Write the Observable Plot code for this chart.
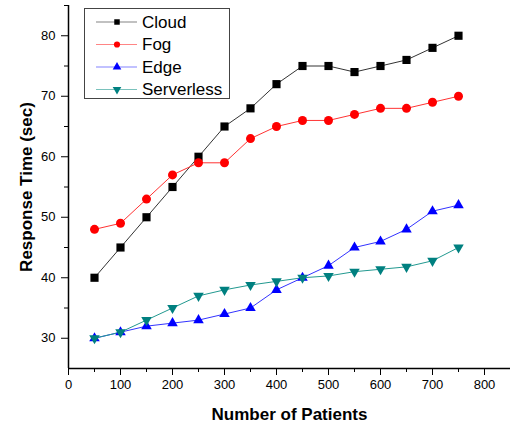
<!DOCTYPE html>
<html><head><meta charset="utf-8">
<script src="https://cdn.jsdelivr.net/npm/d3@7"></script>
<script src="https://cdn.jsdelivr.net/npm/@observablehq/plot@0.6"></script>
<style>
body{margin:0;background:#fff;}
#wrap{position:relative;width:510px;height:428px;font-family:Arial,"Liberation Sans",sans-serif;}
#wrap svg.plot{font-family:Arial,"Liberation Sans",sans-serif;}
g[aria-label="x-axis label"] text, g[aria-label="y-axis label"] text{font-weight:bold;font-size:17px;}
#legend{position:absolute;left:84px;top:8px;}
</style></head><body><div id="wrap"></div>
<script>
const patients = [50,100,150,200,250,300,350,400,450,500,550,600,650,700,750];
const cloud = [40,45,50,55,60,65,68,72,75,75,74,75,76,78,80];
const fog = [48,49,53,57,59,59,63,65,66,66,67,68,68,69,70];
const edge = [30,31,32,32.5,33,34,35,38,40,42,45,46,48,51,52];
const serverless = [30,31,33,35,37,38,38.8,39.4,40,40.3,41,41.4,41.8,42.8,45];
const seriesNames = ["Cloud","Fog","Edge","Serverless"];
const seriesValues = [cloud, fog, edge, serverless];
const seriesColors = ["#000000","#ff0000","#0000ff","#008080"];
const lineColors = ["#333333","#ff3333","#3333ff","#229990"];
const seriesSymbols = ["square","circle","triangle","triangle"];
const seriesRotate = [0,0,0,180];
const seriesR = [4.6,4.5,3.9,3.9];
const xTicks = [0,100,200,300,400,500,600,700,800];
const xMinor = [50,150,250,350,450,550,650,750];
const yTicks = [30,40,50,60,70,80];
const yMinor = [35,45,55,65,75,85];

const rows = seriesNames.flatMap((s,i)=>patients.map((p,j)=>({series:s, i, x:p, y:seriesValues[i][j]})));

const marks = [
  Plot.ruleY([25],{stroke:"#000",strokeWidth:1.5}),
  Plot.ruleX([0],{stroke:"#000",strokeWidth:1.5}),
  Plot.axisX(xTicks,{tickSize:7,tickPadding:4,fontSize:13,stroke:"#000",label:"Number of Patients",labelAnchor:"center",labelArrow:"none",labelOffset:51}),
  Plot.axisX(xMinor,{tickSize:4,tickFormat:()=>"",label:null,stroke:"#000"}),
  Plot.axisY(yTicks,{tickSize:7,tickPadding:6,fontSize:13,stroke:"#000",label:"Response Time (sec)",labelAnchor:"center",labelArrow:"none",labelOffset:49}),
  Plot.axisY(yMinor,{tickSize:4,tickFormat:()=>"",label:null,stroke:"#000"})
];
seriesNames.forEach((s,i)=>{
  const d = rows.filter(r=>r.i===i);
  marks.push(Plot.line(d,{x:"x",y:"y",stroke:lineColors[i],strokeWidth:1}));
});
seriesNames.forEach((s,i)=>{
  const d = rows.filter(r=>r.i===i);
  marks.push(Plot.dot(d,{x:"x",y:"y",fill:seriesColors[i],stroke:"none",symbol:seriesSymbols[i],r:seriesR[i],rotate:seriesRotate[i]}));
});

const chart = Plot.plot({
  width:510, height:428,
  marginLeft:68, marginRight:0, marginTop:5, marginBottom:60,
  x:{domain:[0,850]},
  y:{domain:[25,85]},
  style:{fontFamily:'Arial,"Liberation Sans",sans-serif',color:"#000",background:"#fff"},
  marks
});
const wrap = document.getElementById("wrap");
wrap.appendChild(chart);

// legend
const lw=146, lh=91;
const leg = d3.select(wrap).append("svg").attr("id","legend").attr("width",lw).attr("height",lh);
leg.append("rect").attr("x",0.5).attr("y",0.5).attr("width",lw-1).attr("height",lh-1).attr("fill","#fff").attr("stroke","#444").attr("stroke-width",1);
const symMap = {square:d3.symbolSquare,circle:d3.symbolCircle,triangle:d3.symbolTriangle};
seriesNames.forEach((s,i)=>{
  const cy = 14 + i*22.5;
  const g = leg.append("g");
  g.append("line").attr("x1",12).attr("x2",53).attr("y1",cy).attr("y2",cy).attr("stroke",lineColors[i]).attr("stroke-opacity",0.6).attr("stroke-width",1.2);
  g.append("path").attr("d",d3.symbol(symMap[seriesSymbols[i]], i<2?30:32)()).attr("transform",`translate(33,${cy}) rotate(${seriesRotate[i]})`).attr("fill",seriesColors[i]);
  g.append("text").attr("x",58).attr("y",cy).attr("dy","0.35em").attr("font-size",17).attr("font-family",'Arial,"Liberation Sans",sans-serif').text(s);
});
</script>
</body></html>
